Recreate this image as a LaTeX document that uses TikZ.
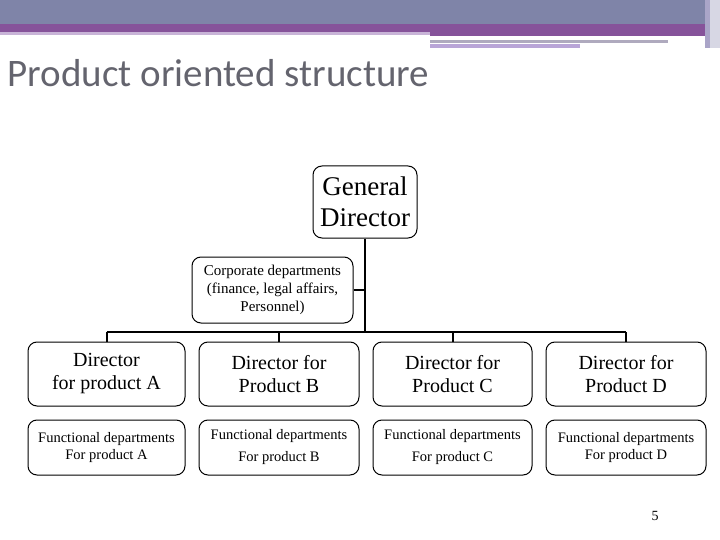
\documentclass[tikz,border=0pt]{standalone}
\usepackage{fontspec}
\setmainfont{Liberation Serif}
\newfontfamily\titlefont{Carlito}
\begin{document}
\begin{tikzpicture}[x=1pt,y=-1pt,
  box/.style={draw,line width=1pt,rounded corners=9pt,align=center,inner sep=0pt},
  conn/.style={line width=2pt}]
\useasboundingbox (0,0) rectangle (720,540);
% header
\fill[fill={rgb,255:red,127;green,132;blue,168}] (0,0) rectangle (720,24);
\fill[fill={rgb,255:red,134;green,83;blue,154}] (0,24) rectangle (430,32);
\fill[fill={rgb,255:red,200;green,180;blue,215}] (0,32) rectangle (430,35);
\fill[fill={rgb,255:red,134;green,83;blue,154}] (430,24) rectangle (705,36);
\fill[fill={rgb,255:red,175;green,170;blue,190}] (430,40) rectangle (668,43);
\fill[fill={rgb,255:red,185;green,165;blue,215}] (430,44) rectangle (580,48);
\fill[fill={rgb,255:red,170;green,165;blue,200}] (705,0) rectangle (710,48);
\fill[fill={rgb,255:red,215;green,215;blue,228}] (710,0) rectangle (720,48);
\node[anchor=west,text={rgb,255:red,100;green,100;blue,110}] (title) at (4,73) {\titlefont\fontsize{39}{44}\selectfont Product oriented structure};
% nodes
\node[box,minimum width=104pt,minimum height=72pt,font=\fontsize{27}{31}\selectfont] (gd) at (365,202) {General\\Director};
\node[box,minimum width=161pt,minimum height=66pt,font=\fontsize{15}{18}\selectfont] (corp) at (272.5,290) {Corporate departments\\(finance, legal affairs,\\Personnel)};
\coordinate (bus) at (365,332);
\coordinate (j) at (365,290);
\foreach \n/\cx/\w/\t/\f in {a/106.5/157/{Director\\for product A}/{Functional departments\\For product A},
  b/279/160/{Director for\\Product B}/{Functional departments\\[5pt]For product B},
  c/452.5/159/{Director for\\Product C}/{Functional departments\\[5pt]For product C},
  d/626/160/{Director for\\Product D}/{Functional departments\\For product D}}{
  \node[box,minimum width=\w pt,minimum height=64pt,font=\fontsize{20}{23}\selectfont] (d\n) at (\cx,374) {\t};
  \node[box,minimum width=\w pt,minimum height=55pt,font=\fontsize{14.5}{17}\selectfont] (f\n) at (\cx,447.5) {\f};
  \coordinate (t\n) at (\cx,332);
}
\draw[conn] (gd.south) -- (bus);
\draw[conn] (corp.east) -- (j);
\draw[conn] (ta) -- (td);
\foreach \n in {a,b,c,d}{\draw[conn] (t\n) -- (d\n.north);}
\node[font=\fontsize{14}{16}\selectfont] (pg) at (655,516) {5};
\end{tikzpicture}
\end{document}
